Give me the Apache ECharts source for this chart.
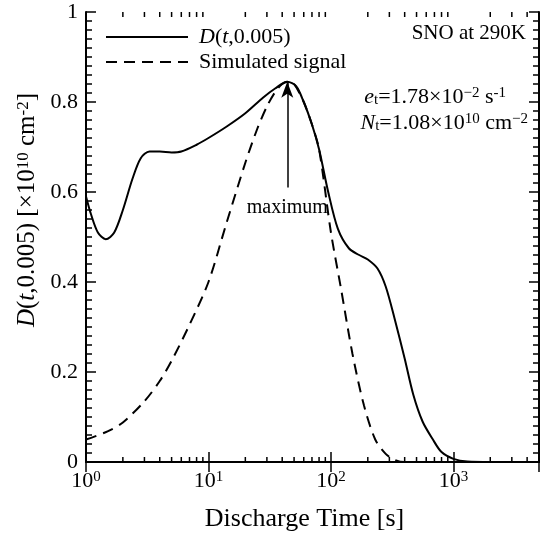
<!DOCTYPE html>
<html>
<head>
<meta charset="utf-8">
<script src="https://cdn.jsdelivr.net/npm/echarts@6/dist/echarts.min.js"></script>
<style>
  html, body { margin: 0; padding: 0; background: #fff; }
  #chart { width: 551px; height: 537px; }
</style>
</head>
<body>
<div id="chart"></div>
<script>
const serif = 'Liberation Serif';

// D(t,0.005) curve
const dTime = [1, 1.1, 1.25, 1.45, 1.7, 2, 2.4, 2.8, 3.3, 4, 5, 6, 8, 10, 14, 20, 28, 35, 44, 52, 60, 70, 80, 95, 114, 140, 170, 200, 240, 280, 330, 400, 470, 560, 680, 800, 1000, 1300, 2000, 2500]
const dValue = [0.59, 0.55, 0.51, 0.495, 0.51, 0.56, 0.63, 0.675, 0.69, 0.69, 0.688, 0.69, 0.705, 0.72, 0.745, 0.775, 0.81, 0.83, 0.845, 0.835, 0.8, 0.75, 0.695, 0.6, 0.518, 0.475, 0.46, 0.45, 0.43, 0.39, 0.32, 0.23, 0.15, 0.09, 0.05, 0.022, 0.007, 0.001, 0, 0]

// simulated signal
const simTime = [1, 1.5, 2, 3, 4, 5, 7, 10, 14, 20, 25, 30, 35, 40, 45, 50, 60, 70, 80, 100, 120, 150, 186, 230, 280, 330, 400, 450]
const simValue = [0.05, 0.068, 0.088, 0.135, 0.18, 0.225, 0.305, 0.4, 0.53, 0.665, 0.74, 0.79, 0.822, 0.84, 0.845, 0.84, 0.8, 0.75, 0.695, 0.51, 0.39, 0.24, 0.126, 0.05, 0.018, 0.005, 0, 0]

const xMinorTicks = [2, 3, 4, 5, 6, 7, 8, 9, 20, 30, 40, 50, 60, 70, 80, 90, 200, 300, 400, 500, 600, 700, 800, 900, 2000, 3000, 4000]

const peakTime = 44
const peakValue = 0.845
const arrowBase = 0.61

const chart = echarts.init(document.getElementById('chart'), null, { renderer: 'canvas' })

const pairs = (xs, ys) => xs.map((x, i) => [x, ys[i]])

const axisLine = { show: true, lineStyle: { color: '#000', width: 2 } }
const xTick = { show: true, inside: true, length: 10, lineStyle: { color: '#000', width: 1.5 } }
const yTick = { show: true, inside: true, length: 10, lineStyle: { color: '#000', width: 1.5 } }
const yMinor = { show: true, splitNumber: 10, length: 6, lineStyle: { color: '#000', width: 1.5 } }

const noteRich = {
  i: { fontFamily: serif, fontSize: 22, fontStyle: 'italic', fill: '#000' },
  sub: { fontFamily: serif, fontSize: 15, fill: '#000', verticalAlign: 'bottom' },
  sup: { fontFamily: serif, fontSize: 15, fill: '#000', verticalAlign: 'top' }
}

const option = {
  backgroundColor: '#fff',
  animation: false,
  textStyle: { fontFamily: serif, color: '#000' },
  grid: { left: 86, right: 12, top: 12, bottom: 73 },
  legend: {
    orient: 'vertical',
    left: 105,
    top: 26,
    padding: 0,
    itemGap: 3,
    itemWidth: 82,
    itemHeight: 14,
    itemStyle: { opacity: 0 },
    data: ['D(t,0.005)', 'Simulated signal'],
    formatter: name => name === 'D(t,0.005)' ? '{i|D}({i|t},0.005)' : name,
    textStyle: {
      fontFamily: serif,
      fontSize: 22,
      color: '#000',
      padding: [0, 0, 0, 6],
      rich: {
        i: { fontFamily: serif, fontSize: 22, fontStyle: 'italic', color: '#000' }
      }
    }
  },
  xAxis: [
    {
      type: 'log',
      logBase: 10,
      min: 1,
      max: 5000,
      name: 'Discharge Time [s]',
      nameLocation: 'middle',
      nameGap: 44,
      nameTextStyle: { fontFamily: serif, fontSize: 26, color: '#000', padding: [0, 16, 0, 0] },
      axisLine: axisLine,
      axisTick: xTick,
      splitLine: { show: false },
      axisLabel: {
        margin: 8,
        showMaxLabel: false,
        formatter: v => '{b|10}{sup|' + Math.round(Math.log10(v)) + '}',
        rich: {
          b: { fontFamily: serif, fontSize: 22, color: '#000' },
          sup: { fontFamily: serif, fontSize: 15, color: '#000', verticalAlign: 'top' }
        }
      }
    },
    {
      type: 'log',
      logBase: 10,
      min: 1,
      max: 5000,
      position: 'top',
      axisLine: axisLine,
      axisTick: xTick,
      axisLabel: { show: false },
      splitLine: { show: false }
    }
  ],
  yAxis: [
    {
      type: 'value',
      min: 0,
      max: 1,
      interval: 0.2,
      name: '{i|D}({i|t},0.005) [×10{sup|10} cm{sup|-2}]',
      nameLocation: 'middle',
      nameGap: 46,
      nameTextStyle: {
        fontFamily: serif,
        fontSize: 25,
        color: '#000',
        padding: [0, 0, 0, 54],
        rich: {
          i: { fontFamily: serif, fontSize: 25, fontStyle: 'italic', color: '#000' },
          sup: { fontFamily: serif, fontSize: 17, color: '#000', verticalAlign: 'top' }
        }
      },
      axisLine: axisLine,
      axisTick: yTick,
      minorTick: yMinor,
      splitLine: { show: false },
      axisLabel: { margin: 8, fontFamily: serif, fontSize: 22, color: '#000' }
    },
    {
      type: 'value',
      min: 0,
      max: 1,
      interval: 0.2,
      position: 'right',
      axisLine: axisLine,
      axisTick: yTick,
      minorTick: yMinor,
      splitLine: { show: false },
      axisLabel: { show: false }
    }
  ],
  graphic: [
    {
      type: 'text',
      right: 25,
      top: 23,
      style: { text: 'SNO at 290K', font: '21px ' + serif, fill: '#000' }
    },
    {
      type: 'text',
      right: 45,
      top: 86,
      style: {
        text: '{i|e}{sub|t}=1.78×10{sup|−2} s{sup|-1}',
        font: '22px ' + serif,
        fill: '#000',
        rich: noteRich
      }
    },
    {
      type: 'text',
      right: 23,
      top: 112,
      style: {
        text: '{i|N}{sub|t}=1.08×10{sup|10} cm{sup|−2}',
        font: '22px ' + serif,
        fill: '#000',
        rich: noteRich
      }
    }
  ],
  series: [
    {
      name: 'D(t,0.005)',
      type: 'line',
      data: pairs(dTime, dValue),
      smooth: 0.3,
      symbol: 'none',
      lineStyle: { color: '#000', width: 2 },
      itemStyle: { color: '#000' },
      markLine: {
        silent: true,
        lineStyle: { color: '#000', width: 1.5, type: 'solid' },
        label: {
          show: true,
          position: 'start',
          distance: 10,
          formatter: 'maximum',
          fontFamily: serif,
          fontSize: 20,
          color: '#000'
        },
        data: [[
          { coord: [peakTime, arrowBase], symbol: 'none' },
          { coord: [peakTime, peakValue], symbol: 'arrow', symbolSize: [9, 16], itemStyle: { color: '#000' } }
        ]]
      }
    },
    {
      name: 'Simulated signal',
      type: 'line',
      data: pairs(simTime, simValue),
      smooth: 0.3,
      symbol: 'none',
      lineStyle: { color: '#000', width: 2, type: [11, 7] },
      itemStyle: { color: '#000' }
    },
    {
      // log minor ticks on bottom and top axes
      type: 'custom',
      silent: true,
      clip: false,
      data: xMinorTicks.map(v => [v, 0]),
      renderItem: (params, api) => {
        const v = api.value(0)
        const b = api.coord([v, 0])
        const t = api.coord([v, 1])
        const style = { stroke: '#000', lineWidth: 1.5 }
        return {
          type: 'group',
          children: [
            { type: 'line', shape: { x1: b[0], y1: b[1], x2: b[0], y2: b[1] - 5 }, style },
            { type: 'line', shape: { x1: t[0], y1: t[1], x2: t[0], y2: t[1] + 5 }, style }
          ]
        }
      }
    }
  ]
}

chart.setOption(option)
</script>
</body>
</html>
